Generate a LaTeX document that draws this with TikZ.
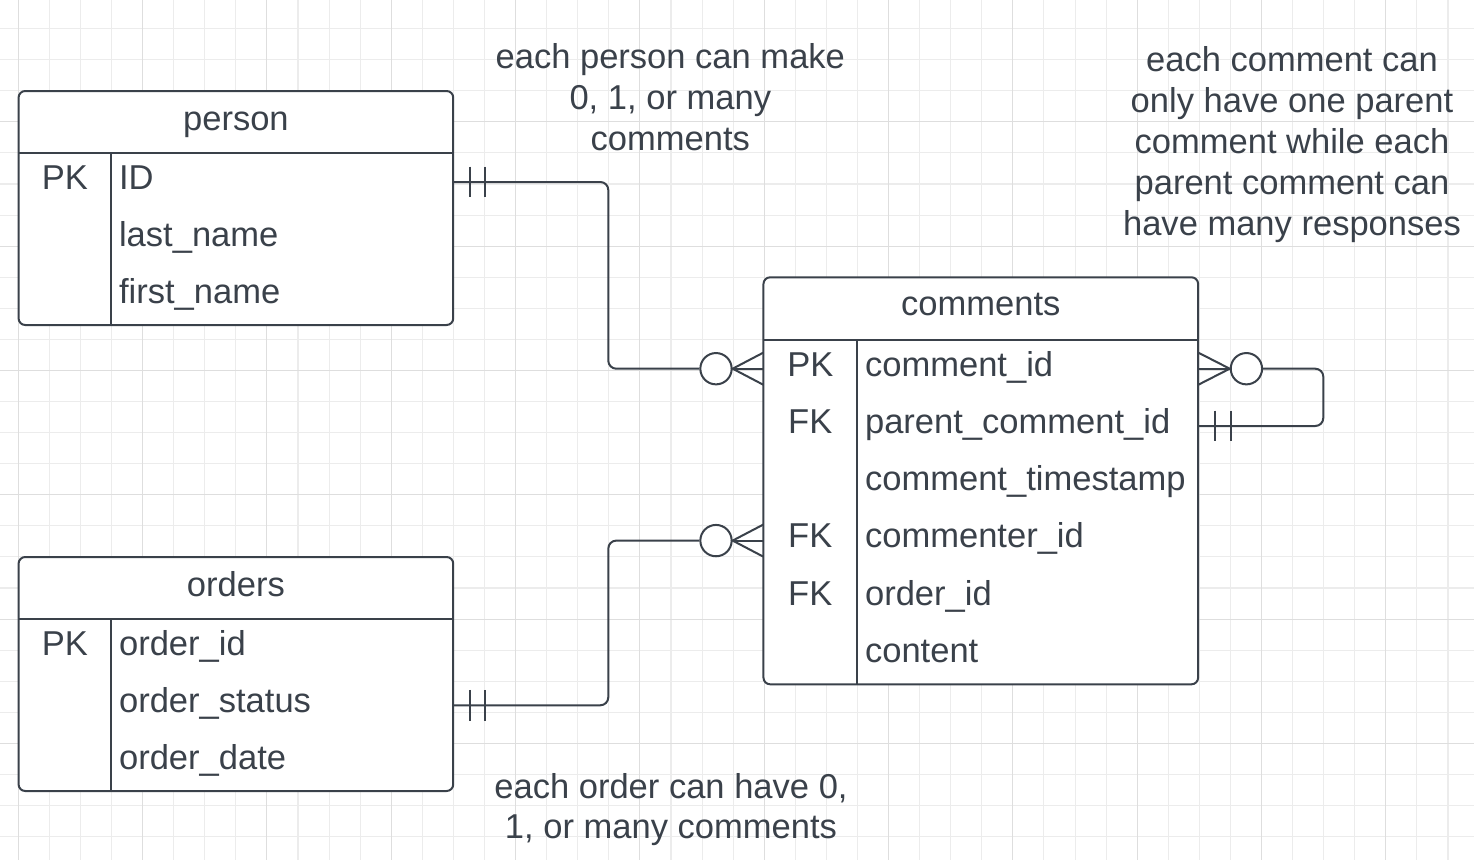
\documentclass[tikz,border=0pt]{standalone}
\usepackage{fontspec}
\setmainfont{Liberation Sans}
\definecolor{ink}{RGB}{58,65,74}
\definecolor{gridminor}{RGB}{236,236,236}
\definecolor{gridmajor}{RGB}{222,222,222}
\begin{document}
\begin{tikzpicture}[x=0.75pt,y=-0.75pt,
  font=\fontsize{25.9pt}{31.2pt}\selectfont,
  txt/.style={inner sep=0pt, text=ink},
  tbl/.style={draw=ink, line width=1.5pt, fill=white, rounded corners=5pt, minimum width=326pt, inner sep=0pt},
  tblline/.style={draw=ink, line width=1.5pt},
  rowbox/.style={minimum width=326pt, minimum height=43pt, inner sep=0pt},
  conn/.style={draw=ink, line width=1.5pt, rounded corners=6pt},
  crowline/.style={draw=ink, line width=1.5pt},
  optcircle/.style={circle, draw=ink, line width=1.5pt, fill=white, minimum size=23.5pt, inner sep=0pt}
]
\useasboundingbox (0,0) rectangle (1474,860);
\fill[white] (0,0) rectangle (1474,860);
% grid
\begin{scope}
\clip (0,0) rectangle (1474,860);
\foreach \k in {0,...,46} {
  \pgfmathsetmacro\gx{18.3+31.08*\k}
  \draw[gridminor, line width=0.8pt] (\gx,0) -- (\gx,860);
}
\foreach \k in {1,...,27} {
  \pgfmathsetmacro\gy{-2.5+31.08*\k}
  \draw[gridminor, line width=0.8pt] (0,\gy) -- (1474,\gy);
}
\foreach \k in {0,4,...,44} {
  \pgfmathsetmacro\gx{18.3+31.08*\k}
  \draw[gridmajor, line width=0.8pt] (\gx,0) -- (\gx,860);
}
\foreach \k in {4,8,...,24} {
  \pgfmathsetmacro\gy{-2.5+31.08*\k}
  \draw[gridmajor, line width=0.8pt] (0,\gy) -- (1474,\gy);
}
\end{scope}

% ---------- person ----------
\node[tbl, minimum height=175.5pt] (person) at (235.9,208) {};
\draw[tblline] (18.5,153.3) -- (453.3,153.3);
\draw[tblline] (111.3,153.3) -- (111.3,325);
\node[txt, anchor=base] (person-title) at (235.9,130) {person};
\node[rowbox] (p-id) at (235.9,182) {};
\node[rowbox] (p-last) at (235.9,239.3) {};
\node[rowbox] (p-first) at (235.9,296.6) {};
\node[txt, anchor=base] (p-pk) at (64.9,189.3) {PK};
\node[txt, anchor=base west] (p-id-t) at (118.8,189.3) {ID};
\node[txt, anchor=base west] (p-last-t) at (118.8,246.6) {last\_name};
\node[txt, anchor=base west] (p-first-t) at (118.8,303.9) {first\_name};

% ---------- orders ----------
\node[tbl, minimum height=175.5pt] (orders) at (235.9,674) {};
\draw[tblline] (18.5,619.3) -- (453.3,619.3);
\draw[tblline] (111.3,619.3) -- (111.3,791);
\node[txt, anchor=base] (orders-title) at (235.9,596) {orders};
\node[rowbox] (o-id) at (235.9,648) {};
\node[rowbox] (o-status) at (235.9,705.3) {};
\node[rowbox] (o-date) at (235.9,762.6) {};
\node[txt, anchor=base] (o-pk) at (64.9,655.3) {PK};
\node[txt, anchor=base west] (o-id-t) at (118.8,655.3) {order\_id};
\node[txt, anchor=base west] (o-status-t) at (118.8,712.6) {order\_status};
\node[txt, anchor=base west] (o-date-t) at (118.8,769.9) {order\_date};

% ---------- comments ----------
\node[tbl, minimum height=305.25pt] (comments) at (980.8,480.8) {};
\draw[tblline] (763.3,340) -- (1198.3,340);
\draw[tblline] (857.3,340) -- (857.3,684.3);
\node[txt, anchor=base] (comments-title) at (980.8,315.5) {comments};
\node[rowbox] (c-cid) at (980.8,368.7) {};
\node[rowbox] (c-pid) at (980.8,426) {};
\node[rowbox] (c-ts) at (980.8,483.3) {};
\node[rowbox] (c-cmt) at (980.8,540.6) {};
\node[rowbox] (c-oid) at (980.8,597.9) {};
\node[rowbox] (c-content) at (980.8,655.2) {};
\node[txt, anchor=base] (c-pk) at (810.3,376) {PK};
\node[txt, anchor=base] (c-fk1) at (810.3,433.3) {FK};
\node[txt, anchor=base] (c-fk2) at (810.3,547.9) {FK};
\node[txt, anchor=base] (c-fk3) at (810.3,605.2) {FK};
\node[txt, anchor=base west] (c-cid-t) at (864.8,376) {comment\_id};
\node[txt, anchor=base west] (c-pid-t) at (864.8,433.3) {parent\_comment\_id};
\node[txt, anchor=base west] (c-ts-t) at (864.8,490.6) {comment\_timestamp};
\node[txt, anchor=base west] (c-cmt-t) at (864.8,547.9) {commenter\_id};
\node[txt, anchor=base west] (c-oid-t) at (864.8,605.2) {order\_id};
\node[txt, anchor=base west] (c-content-t) at (864.8,662.5) {content};

% ---------- person -> comments ----------
\node[optcircle] (pc-circ) at (716,368.7) {};
\draw[conn] (p-id.east) -- (608.3,182) -- (608.3,368.7) -- (pc-circ.west);
\draw[crowline] ([xshift=12pt,yshift=11.6pt]p-id.east) -- ([xshift=12pt,yshift=-11.6pt]p-id.east);
\draw[crowline] ([xshift=23.8pt,yshift=11.6pt]p-id.east) -- ([xshift=23.8pt,yshift=-11.6pt]p-id.east);
\draw[crowline] (pc-circ.east) -- (c-cid.west);
\draw[crowline] ([yshift=12pt]c-cid.west) -- (pc-circ.east) -- ([yshift=-12pt]c-cid.west);

% ---------- orders -> comments ----------
\node[optcircle] (oc-circ) at (716,540.6) {};
\draw[conn] (o-status.east) -- (608.3,705.3) -- (608.3,540.6) -- (oc-circ.west);
\draw[crowline] ([xshift=12pt,yshift=11.6pt]o-status.east) -- ([xshift=12pt,yshift=-11.6pt]o-status.east);
\draw[crowline] ([xshift=23.8pt,yshift=11.6pt]o-status.east) -- ([xshift=23.8pt,yshift=-11.6pt]o-status.east);
\draw[crowline] (oc-circ.east) -- (c-cmt.west);
\draw[crowline] ([yshift=12pt]c-cmt.west) -- (oc-circ.east) -- ([yshift=-12pt]c-cmt.west);

% ---------- comments self relation ----------
\node[optcircle] (cc-circ) at (1246.4,368.7) {};
\draw[conn] (cc-circ.east) -- (1323.3,368.7) -- (1323.3,426) -- (c-pid.east);
\draw[crowline] (c-cid.east) -- (cc-circ.west);
\draw[crowline] ([yshift=12pt]c-cid.east) -- (cc-circ.west) -- ([yshift=-12pt]c-cid.east);
\draw[crowline] ([xshift=12.5pt,yshift=11.6pt]c-pid.east) -- ([xshift=12.5pt,yshift=-11.6pt]c-pid.east);
\draw[crowline] ([xshift=24.3pt,yshift=11.6pt]c-pid.east) -- ([xshift=24.3pt,yshift=-11.6pt]c-pid.east);

% ---------- annotations ----------
\node[txt, anchor=base] (n1a) at (670.3,68.3) {each person can make};
\node[txt, anchor=base] (n1b) at (670.3,109.5) {0, 1, or many};
\node[txt, anchor=base] (n1c) at (670.3,150.5) {comments};

\node[txt, anchor=base] (n2a) at (1292,71.7) {each comment can};
\node[txt, anchor=base] (n2b) at (1292,112.7) {only have one parent};
\node[txt, anchor=base] (n2c) at (1292,153.7) {comment while each};
\node[txt, anchor=base] (n2d) at (1292,194.7) {parent comment can};
\node[txt, anchor=base] (n2e) at (1292,235.7) {have many responses};

\node[txt, anchor=base] (n3a) at (671,798.3) {each order can have 0,};
\node[txt, anchor=base] (n3b) at (671,838.8) {1, or many comments};
\end{tikzpicture}
\end{document}
